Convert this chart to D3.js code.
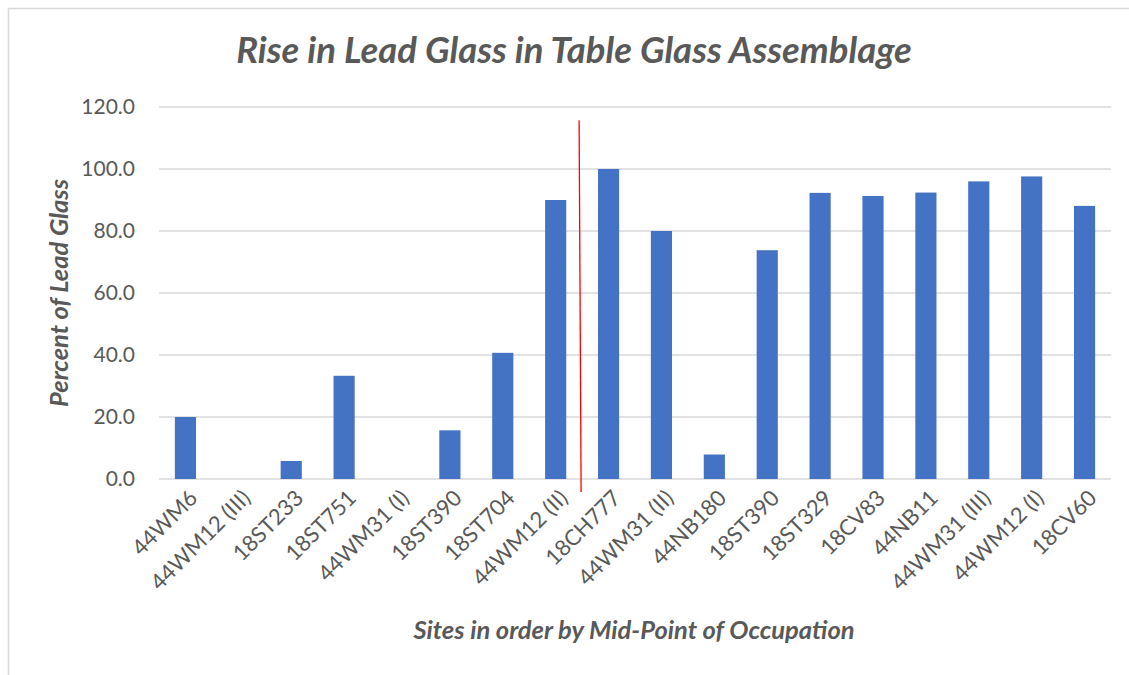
<!DOCTYPE html>
<html><head><meta charset="utf-8">
<script src="https://cdn.jsdelivr.net/npm/d3@7"></script>
<style>body{margin:0;background:#fff;}svg{display:block;}</style>
</head><body>
<script>
const categories = ["44WM6","44WM12 (III)","18ST233","18ST751","44WM31 (I)","18ST390","18ST704","44WM12 (II)","18CH777","44WM31 (II)","44NB180","18ST390","18ST329","18CV83","44NB11","44WM31 (III)","44WM12 (I)","18CV60"];
const values = [20.0, 0, 5.8, 33.3, 0, 15.7, 40.7, 90.0, 100.0, 80.0, 7.9, 73.8, 92.3, 91.3, 92.4, 96.0, 97.6, 88.1];
const yTicks = [0,20,40,60,80,100,120];
const title = "Rise in Lead Glass in Table Glass Assemblage";
const xTitle = "Sites in order by Mid-Point of Occupation";
const yTitle = "Percent of Lead Glass";

const W = 1129, H = 675;
const m = {left:159, right:18, top:107, bottom:196};
const svg = d3.select("body").append("svg").attr("width",W).attr("height",H);
const font = "Lato, 'Open Sans', sans-serif";
const grey = "#595959";

svg.append("path").attr("d",`M8.5,${H} V8.5 H${W}`).attr("fill","none").attr("stroke","#d9d9d9").attr("stroke-width",1.5);

const x = d3.scaleBand().domain(d3.range(categories.length)).range([m.left, W-m.right]).paddingInner(0.6).paddingOuter(0.3);
const y = d3.scaleLinear().domain([0,120]).range([H-m.bottom, m.top]);

// gridlines
svg.append("g").selectAll("line").data(yTicks).join("line")
  .attr("x1",m.left).attr("x2",W-m.right)
  .attr("y1",d=>y(d)).attr("y2",d=>y(d))
  .attr("stroke","#d9d9d9").attr("stroke-width",1.5);

// y tick labels
svg.append("g").selectAll("text").data(yTicks).join("text")
  .attr("x",135).attr("y",d=>y(d)).attr("dy","0.35em")
  .attr("text-anchor","end").attr("font-family",font).attr("font-size",21).attr("fill",grey)
  .text(d=>d.toFixed(1));

// bars
svg.append("g").selectAll("rect").data(values).join("rect")
  .attr("x",(d,i)=>x(i)).attr("width",x.bandwidth())
  .attr("y",d=>y(d)).attr("height",d=>y(0)-y(d))
  .attr("fill","#4472c4");

// x labels
svg.append("g").selectAll("text").data(categories).join("text")
  .attr("transform",(d,i)=>`translate(${x(i)+x.bandwidth()/2+8},${y(0)+15}) rotate(-45)`)
  .attr("text-anchor","end").attr("dy","0.35em")
  .attr("font-family",font).attr("font-size",22).attr("fill",grey)
  .text(d=>d);

// red divider line between 44WM12 (II) and 18CH777
const xDiv = (x(7)+x.bandwidth() + x(8))/2 - 3;
svg.append("line").attr("x1",xDiv).attr("x2",xDiv+2)
  .attr("y1",y(115.7)).attr("y2",y(-4.2))
  .attr("stroke","#ff0000").attr("stroke-width",1.3);

// title
svg.append("text").attr("x",574).attr("y",63).attr("text-anchor","middle")
  .attr("font-family",font).attr("font-style","italic").attr("font-weight",700)
  .attr("font-size",36.5).attr("fill",grey).text(title);

// axis titles
svg.append("text").attr("x",634).attr("y",639).attr("text-anchor","middle")
  .attr("font-family",font).attr("font-style","italic").attr("font-weight",700)
  .attr("font-size",25.5).attr("fill",grey).text(xTitle);
svg.append("text").attr("transform","translate(68,293) rotate(-90)").attr("text-anchor","middle")
  .attr("font-family",font).attr("font-style","italic").attr("font-weight",700)
  .attr("font-size",25.5).attr("fill",grey).text(yTitle);
</script>
</body></html>
